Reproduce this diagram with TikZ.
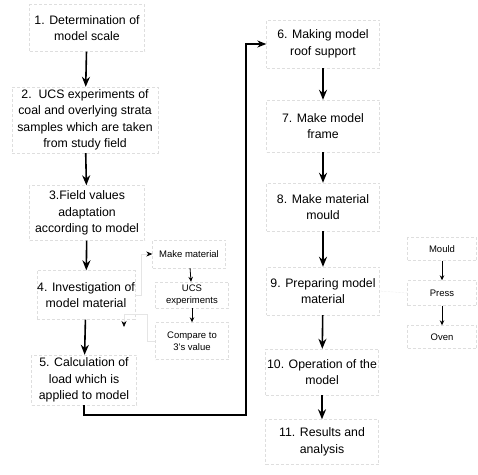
\documentclass[tikz,border=0pt]{standalone}
\usepackage{fontspec}
\setmainfont{Liberation Sans}
\usetikzlibrary{arrows.meta}

\begin{document}
\begin{tikzpicture}[
x=1pt, y=-1pt,
every node/.style={font=\fontsize{12.3}{16.5}\selectfont},
stage/.style={draw=black!13, densely dashed, align=center, inner sep=0pt, minimum width=#1},
sub/.style={draw=black!13, densely dashed, align=center, inner sep=0pt, minimum width=73pt, font=\fontsize{9.5}{12}\selectfont},
flow/.style={line width=1.6pt, -{Stealth[length=10pt,width=8pt]}},
link/.style={line width=1.2pt, -{Stealth[length=9pt,width=7pt]}},
small/.style={line width=0.8pt, -{Stealth[length=5pt,width=4.5pt]}},
faint/.style={draw=black!10, line width=0.6pt, -{Stealth[length=6pt,width=5pt,color=black]}}
]
\useasboundingbox (0,0) rectangle (478,474);

% --- Cột trái: bước 1 đến 5 ---
\node[stage=115pt, minimum height=47pt] (scale) at (87,28) {1. Determination of\\model scale};
\node[stage=146pt, minimum height=66pt] (ucs) at (85,120) {2.\ \ UCS experiments of\\coal and overlying strata\\samples which are taken\\from study field};
\node[stage=115pt, minimum height=55pt] (field) at (87,213) {3.Field values\\adaptation\\according to model};
\node[stage=97pt, minimum height=49pt] (invest) at (86,295) {4. Investigation of\\model material};
\node[stage=105pt, minimum height=50pt] (load) at (84,380) {5. Calculation of\\load which is\\applied to model};

\draw[flow] (scale) -- (ucs);
\draw[flow] (ucs) -- (field);
\draw[flow] (field) -- (invest);
\draw[flow] (invest) -- (load);

% --- Nhóm phụ của bước 4 ---
\node[sub, minimum height=28pt] (makemat) at (189,254) {Make material};
\node[sub, minimum height=26pt] (ucstest) at (192,295) {UCS\\experiments};
\node[sub, minimum height=37pt] (compare) at (192,341) {Compare to\\3's value};

\draw[small] (makemat) -- (ucstest);
\draw[small] (ucstest) -- (compare);

\coordinate (backtop) at (124,314);
\coordinate (back) at (124,327);
\draw[faint] (invest.east) -- ++(6,0) |- (makemat.west);
\draw[faint] (compare.west) -- ++(-8,0) |- (backtop) -- (back);

% --- Mũi tên nối bước 5 sang bước 6 ---
\coordinate (turn) at (246,415);

% --- Cột phải: bước 6 đến 11 ---
\node[stage=113pt, minimum height=48pt] (roof) at (323,44) {6. Making model\\roof support};
\node[stage=113pt, minimum height=52pt] (frame) at (323,126) {7. Make model\\frame};
\node[stage=113pt, minimum height=48pt] (mould) at (323,207) {8. Make material\\mould};
\node[stage=113pt, minimum height=48pt] (prep) at (323,291) {9. Preparing model\\material};
\node[stage=113pt, minimum height=46pt] (oper) at (322,372) {10. Operation of the\\model};
\node[stage=113pt, minimum height=45pt] (result) at (322,442) {11. Results and\\analysis};

\draw[link] (load.south) |- (turn) |- (roof.west);

\draw[flow] (roof) -- (frame);
\draw[flow] (frame) -- (mould);
\draw[flow] (mould) -- (prep);
\draw[flow] (prep) -- (oper);
\draw[flow] (oper) -- (result);

% --- Nhóm phụ của bước 9 ---
\node[sub, minimum width=69pt, minimum height=23pt] (mouldbox) at (442,249) {Mould};
\node[sub, minimum width=69pt, minimum height=25pt] (press) at (442,293) {Press};
\node[sub, minimum width=69pt, minimum height=23pt] (oven) at (442,337) {Oven};

\draw[small] (mouldbox) -- (press);
\draw[small] (press) -- (oven);
\draw[draw=black!15, densely dotted] (prep.east) -- (press.west);

\end{tikzpicture}
\end{document}
